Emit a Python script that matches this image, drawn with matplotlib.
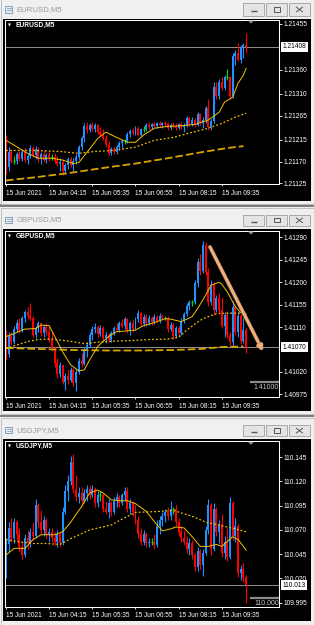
import matplotlib
matplotlib.use("Agg")
import matplotlib.pyplot as plt
from matplotlib.patches import Rectangle, Polygon
from matplotlib.transforms import blended_transform_factory
import matplotlib.patheffects as pe
import numpy as np

plt.rcParams['font.family'] = ['Liberation Sans', 'DejaVu Sans']
plt.rcParams['lines.scale_dashes'] = False

W, H, DPI = 314, 625, 100

# ---------------- data ----------------
time_ticks = [0, 16, 32, 48, 64, 80]
time_labels = ['15 Jun 2021', '15 Jun 04:15', '15 Jun 05:35', '15 Jun 06:55', '15 Jun 08:15', '15 Jun 09:35']

# EURUSD M5, prices in points (1e-5) above 1.21000
eur_base, eur_point = 1.21000, 0.00001
eur_open = [222,158,190,172,172,185,176,190,174,182,198,184,196,175,186,174,184,180,180,172,
            165,170,150,162,175,162,172,180,200,218,244,236,246,238,245,232,226,218,204,188,
            196,190,200,208,212,212,228,234,230,240,226,238,238,246,242,248,244,250,246,250,
            248,240,246,244,240,248,242,246,260,248,256,246,268,250,256,280,242,255,325,305,
            335,322,345,345,305,388,395,380,405,412]
eur_high = [226,200,193,182,190,192,195,198,186,205,203,202,200,190,195,188,190,186,188,182,
            178,175,168,180,180,178,185,205,222,250,252,250,252,250,248,242,238,224,212,200,
            202,204,212,216,216,232,238,240,244,244,240,244,250,252,250,252,252,254,252,254,
            252,250,252,250,250,252,250,264,262,262,260,272,270,262,285,300,258,335,335,340,
            345,350,362,348,395,400,415,412,415,436]
eur_low = [145,150,168,165,165,172,172,170,166,178,180,176,170,165,170,168,172,174,168,160,
           150,142,144,155,158,150,165,176,195,210,230,232,234,232,228,222,214,200,183,183,
           186,186,194,198,206,208,220,224,226,222,222,232,234,238,238,240,240,242,240,244,
           236,236,240,236,238,238,232,242,244,244,242,244,246,240,250,236,236,250,300,300,
           318,318,338,300,302,370,378,375,385,395]
eur_close = [158,190,172,172,185,176,190,174,182,198,184,196,175,186,174,184,180,180,172,165,
             170,150,162,175,162,172,180,200,218,244,236,246,238,245,232,226,218,204,188,196,
             190,200,208,212,212,228,234,230,240,226,238,238,246,242,248,244,250,246,250,248,
             240,246,244,240,248,242,246,260,248,256,246,268,250,256,280,242,255,325,305,335,
             322,345,345,305,388,395,380,405,412,408]
eur_fast_x = [0,3,8,12,17,21,25,27,30,34,37,41,45,48,51,55,60,65,70,75,79,81,84,86,88,89]
eur_fast_y = [214,204,187,177,177,173,166,168,189,218,231,220,210,210,225,239,243,244,247,256,272,293,303,332,349,363]
eur_mid_x = [0,10,20,27,33,40,48,55,62,68,75,80,85,89]
eur_mid_y = [193,193,191,187,191,193,200,214,220,229,239,249,262,270]
eur_slow_x = [0,10,23,35,48,60,72,82,88]
eur_slow_y = [131,137,146,156,166,177,189,198,202]
eur_current = 1.21408
eur_yticks = [1.21455, 1.21360, 1.21310, 1.21265, 1.21215, 1.21170, 1.21125]
eur_ylim = (1.21123, 1.21463)

# GBPUSD M5, points (1e-5) above 1.40000
gbp_base, gbp_point = 1.40000, 0.00001
gbp_open = [1095,1055,1092,1080,1106,1118,1104,1128,1140,1132,1128,1095,1108,1118,1098,1110,1100,1085,1068,1038,
            1015,1034,1000,1012,1004,1024,998,1020,1042,1036,1064,1074,1094,1106,1110,1096,1108,1088,1094,1084,
            1098,1108,1104,1118,1112,1126,1104,1118,1106,1126,1138,1116,1130,1118,1128,1120,1130,1122,1132,1128,
            1128,1106,1114,1092,1108,1098,1122,1136,1152,1160,1160,1198,1240,1222,1275,1220,1160,1195,1145,1168,
            1145,1112,1135,1095,1080,1150,1100,1132,1082,1104]
gbp_high = [1105,1100,1100,1112,1124,1128,1132,1145,1150,1158,1132,1112,1122,1120,1115,1118,1112,1100,1072,1048,
            1040,1036,1018,1026,1030,1028,1025,1048,1058,1070,1080,1100,1112,1118,1114,1115,1112,1100,1098,1102,
            1112,1118,1122,1126,1130,1128,1122,1124,1130,1144,1140,1136,1136,1134,1132,1136,1134,1138,1136,1132,
            1132,1120,1118,1112,1112,1128,1140,1158,1165,1165,1205,1248,1256,1282,1280,1228,1205,1200,1175,1178,
            1170,1140,1142,1100,1162,1155,1140,1136,1128,1108]
gbp_low = [1045,1050,1075,1076,1100,1098,1100,1120,1126,1125,1090,1088,1100,1092,1090,1094,1080,1062,1030,1008,
           1010,995,983,996,1000,992,982,1016,1030,1034,1050,1070,1085,1098,1090,1092,1082,1078,1080,1080,
           1094,1100,1100,1108,1106,1098,1094,1100,1104,1120,1112,1112,1112,1114,1114,1116,1118,1118,1124,1124,
           1100,1102,1086,1088,1090,1094,1118,1132,1145,1152,1156,1190,1215,1218,1215,1152,1155,1135,1140,1138,
           1108,1090,1088,1072,1072,1095,1090,1076,1078,1057]
gbp_close = [1055,1092,1080,1106,1118,1104,1128,1140,1132,1128,1095,1108,1118,1098,1110,1100,1085,1068,1038,1015,
             1034,1000,1012,1004,1024,998,1020,1042,1036,1064,1074,1094,1106,1110,1096,1108,1088,1094,1084,1098,
             1108,1104,1118,1112,1126,1104,1118,1106,1126,1138,1116,1130,1118,1128,1120,1130,1122,1132,1128,1128,
             1106,1114,1092,1108,1098,1122,1136,1152,1160,1160,1198,1240,1222,1275,1220,1160,1195,1145,1168,1145,
             1112,1135,1095,1080,1150,1100,1132,1082,1104,1070]
gbp_fast_x = [0,3,7,11,13,16,18,21,24,27,29,31,34,38,41,44,48,51,55,59,61,65,69,71,74,76,79,80,82,85,87,89]
gbp_fast_y = [1091,1097,1106,1107,1114,1113,1092,1060,1034,1022,1024,1044,1071,1091,1101,1102,1104,1113,1119,1127,
              1126,1121,1131,1147,1174,1194,1200,1196,1181,1151,1139,1137]
gbp_mid_x = [0,4,8,12,17,23,29,35,41,47,53,60,64,67,70,73,78,82,87]
gbp_mid_y = [1067,1074,1081,1085,1086,1082,1077,1080,1082,1083,1085,1086,1090,1104,1116,1127,1137,1138,1138]
gbp_slow_x = [0,12,25,37,50,62,72,80,88]
gbp_slow_y = [1068,1066,1064,1063,1063,1064,1066,1070,1071]
gbp_current = 1.41070
gbp_level = 1.41000
gbp_arrow = [(75.6, 1.41271), (95.2, 1.41062)]
gbp_yticks = [1.41290, 1.41245, 1.41200, 1.41155, 1.41110, 1.41020, 1.40975]
gbp_ylim = (1.40969, 1.41303)

# USDJPY M5, points (1e-3) above 110.000
jpy_base, jpy_point = 110.000, 0.001
jpy_open = [25,55,72,62,78,66,52,44,62,56,68,64,96,78,70,80,66,68,62,58,
            66,56,88,110,120,140,112,104,108,100,108,112,106,112,98,106,106,92,88,98,
            88,100,104,98,106,110,92,98,88,80,66,58,66,56,58,58,54,74,80,84,
            88,84,92,92,78,68,62,58,50,56,44,32,48,34,46,70,96,50,92,68,
            76,46,58,42,98,64,74,26,30,22]
jpy_high = [62,78,82,82,80,72,58,66,70,72,78,102,98,90,84,82,72,72,68,70,
            68,94,116,126,146,148,126,114,114,112,116,116,116,114,110,110,108,100,102,100,
            104,108,106,108,114,114,102,100,96,84,72,70,68,62,62,66,80,84,88,92,
            94,100,94,96,82,74,70,64,62,60,46,52,50,50,74,102,98,98,94,80,
            86,64,72,104,100,82,76,34,36,24]
jpy_low = [20,48,58,56,60,48,40,42,50,52,60,62,72,66,64,62,58,58,54,52,
           52,54,86,100,116,108,100,98,96,98,100,102,104,94,94,100,88,86,82,84,
           86,94,94,96,100,88,86,84,76,62,54,54,52,52,54,50,52,66,74,78,
           80,80,86,74,64,58,54,46,44,40,28,28,30,23,44,66,44,48,64,56,
           42,40,38,40,60,58,22,18,16,-5]
jpy_close = [55,72,62,78,66,52,44,62,56,68,64,96,78,70,80,66,68,62,58,66,
             56,88,110,120,140,112,104,108,100,108,112,106,112,98,106,106,92,88,98,88,
             100,104,98,106,110,92,98,88,80,66,58,66,56,58,58,54,74,80,84,88,
             84,92,92,78,68,62,58,50,56,44,32,48,34,46,70,96,50,92,68,76,
             46,58,42,98,64,74,26,30,22,13]
jpy_fast_x = [0,3,7,10,13,18,21,24,28,31,34,36,39,42,45,48,52,56,58,61,63,66,69,72,75,78,80,82,84,86,88,89]
jpy_fast_y = [44,51,51,60,65,65,68,78,94,108,111,108,101,100,100,97,89,75,69,71,73,72,63,53,53,55,53,58,63,60,53,49]
jpy_mid_x = [0,4,10,15,20,24,31,39,45,48,57,62,69,74,82,85,89]
jpy_mid_y = [60,58,56,56,55,61,70,75,84,88,89,90,84,78,73,71,68]
jpy_current = 110.013
jpy_level = 110.000
jpy_yticks = [110.145, 110.120, 110.095, 110.070, 110.045, 110.020, 109.995]
jpy_ylim = (109.9906, 110.1612)

XLIM = (-0.37, 101.3)

BLUE = '#1e90ff'
RED = '#ff0000'
GREEN = '#00e000'
MA_COL = '#f2c200'
SLOW_COL = '#d9a400'

fig = plt.figure(figsize=(W / DPI, H / DPI), dpi=DPI, facecolor='#f0f0f0')

bg = fig.add_axes([0, 0, 1, 1], zorder=0)
bg.set_xlim(0, W); bg.set_ylim(H, 0); bg.axis('off')
ov = fig.add_axes([0, 0, 1, 1], zorder=10)
ov.set_xlim(0, W); ov.set_ylim(H, 0); ov.axis('off'); ov.patch.set_alpha(0)

windows = [
    dict(title='EURUSD,M5', ty=9.5, btn=(3.3, 15.7), black=(3, 18.5, 311, 201), frame=(5, 20, 279.3, 184.3), outline=(0.5, -1, 313.5, 203.5)),
    dict(title='GBPUSD,M5', ty=220.0, btn=(215, 225.7), black=(3, 228.5, 311, 411), frame=(5, 231, 279.3, 397.3), outline=(0.5, 207.5, 313.5, 413.5)),
    dict(title='USDJPY,M5', ty=430.3, btn=(425.3, 436), black=(3, 439, 311, 621), frame=(5, 441.3, 279.3, 607), outline=(0.5, 417.5, 313.5, 624.5)),
]

# separators between windows
bg.add_patch(Rectangle((0, 204), W, 2.5, facecolor='#7c7c7c', edgecolor='none'))
bg.add_patch(Rectangle((0, 414.5), W, 2.5, facecolor='#7c7c7c', edgecolor='none'))

for w in windows:
    x0, y0, x1, y1 = w['outline']
    bg.add_patch(Rectangle((x0, y0), x1 - x0, y1 - y0, facecolor='#f0f0f0', edgecolor='#b9b9b9', lw=0.6))
    bx0, by0, bx1, by1 = w['black']
    bg.add_patch(Rectangle((bx0, by0), bx1 - bx0, by1 - by0, facecolor='black', edgecolor='none'))
    # title icon and text
    ty = w['ty']
    ov.add_patch(Rectangle((5, ty - 3.5), 7, 6.5, facecolor='#e3ebf3', edgecolor='#7b93b0', lw=0.6))
    ov.plot([6.5, 10.5], [ty - 1.5, ty - 1.5], color='#7b93b0', lw=0.5)
    ov.plot([6.5, 10.5], [ty + 0.8, ty + 0.8], color='#7b93b0', lw=0.5)
    ov.text(16.5, ty, w['title'], color='#999999', fontsize=5.6, va='center', ha='left')
    # buttons
    b0, b1 = w['btn']
    for bxa, bxb in [(243, 264), (266, 287), (289, 310)]:
        ov.add_patch(Rectangle((bxa, b0), bxb - bxa, b1 - b0, facecolor='#e4e4e4', edgecolor='#a9a9a9', lw=0.7))
    cy = (b0 + b1) / 2
    ov.plot([251, 257], [cy + 1.2, cy + 1.2], color='#555555', lw=1.0, solid_capstyle='butt')
    ov.add_patch(Rectangle((273.5, cy - 2.3), 6, 4.3, facecolor='none', edgecolor='#555555', lw=0.7))
    ov.plot([296.5, 302.5], [cy - 2.3, cy + 2.3], color='#555555', lw=0.7)
    ov.plot([296.5, 302.5], [cy + 2.3, cy - 2.3], color='#555555', lw=0.7)
    # chart-shift marker
    fy = w['frame'][1]
    ov.add_patch(Polygon([(248, fy + 0.6), (254, fy + 0.6), (251, fy + 3.6)], closed=True,
                         facecolor='#8c8c8c', edgecolor='none'))


def make_axes(frame):
    x0, y0, x1, y1 = frame
    ax = fig.add_axes([x0 / W, 1 - y1 / H, (x1 - x0) / W, (y1 - y0) / H], zorder=2)
    ax.set_facecolor('black')
    for s in ax.spines.values():
        s.set_color('white'); s.set_linewidth(0.75)
    return ax


def draw_chart(ax, base, point, o, h, l, c, ylim, yticks, fmt, current, label):
    o = base + np.array(o) * point
    h = base + np.array(h) * point
    l = base + np.array(l) * point
    c = base + np.array(c) * point
    idx = np.arange(len(o))
    cols = np.where(c > o, BLUE, np.where(c < o, RED, GREEN))
    ax.vlines(idx, l, h, colors=cols, lw=0.8, zorder=2)
    ax.bar(idx, np.abs(c - o), bottom=np.minimum(o, c), width=0.74, color=cols, linewidth=0, zorder=2)
    dj = c == o
    ax.hlines(o[dj], idx[dj] - 0.37, idx[dj] + 0.37, colors=GREEN, lw=0.9, zorder=2)
    ax.set_xlim(*XLIM)
    ax.set_ylim(*ylim)
    ax.yaxis.tick_right()
    ax.set_yticks(yticks)
    ax.set_yticklabels([fmt % v for v in yticks])
    ax.set_xticks(time_ticks)
    ax.set_xticklabels(time_labels, ha='left')
    ax.tick_params(axis='y', colors='white', labelcolor='white', length=2.2, width=0.6, pad=1.2, labelsize=4.8)
    ax.tick_params(axis='x', colors='white', labelcolor='white', length=1.6, width=0.6, pad=2.2, labelsize=4.7)
    ax.axhline(current, color='#8c8c8c', lw=0.75, zorder=1)
    tr = blended_transform_factory(ax.transAxes, ax.transData)
    ax.text(1.011, current, fmt % current, transform=tr, ha='left', va='center', fontsize=4.8, color='black',
            bbox=dict(boxstyle='square,pad=0.22', facecolor='white', edgecolor='none'), clip_on=False, zorder=5)
    ax.text(0.012, 0.968, '\u25BC', transform=ax.transAxes, fontsize=2.8, color='white', ha='left', va='center',
            family=['DejaVu Sans'])
    ax.text(0.038, 0.968, label, transform=ax.transAxes, fontsize=4.8, color='white', ha='left', va='center',
            fontweight='bold')


def draw_ma(ax, base, point, xs, ys, style):
    vals = base + np.array(ys) * point
    if style == 'solid':
        ax.plot(xs, vals, color=MA_COL, lw=0.7, zorder=3)
    elif style == 'dot':
        ax.plot(xs, vals, color=MA_COL, lw=0.9, dashes=(1.3, 1.5), zorder=3)
    else:
        ax.plot(xs, vals, color=SLOW_COL, lw=1.3, dashes=(5.5, 2.2), zorder=3)


# EURUSD
ax1 = make_axes(windows[0]['frame'])
draw_chart(ax1, eur_base, eur_point, eur_open, eur_high, eur_low, eur_close, eur_ylim, eur_yticks, '%.5f',
           eur_current, 'EURUSD,M5')
draw_ma(ax1, eur_base, eur_point, eur_slow_x, eur_slow_y, 'dash')
draw_ma(ax1, eur_base, eur_point, eur_mid_x, eur_mid_y, 'dot')
draw_ma(ax1, eur_base, eur_point, eur_fast_x, eur_fast_y, 'solid')

# GBPUSD
ax2 = make_axes(windows[1]['frame'])
draw_chart(ax2, gbp_base, gbp_point, gbp_open, gbp_high, gbp_low, gbp_close, gbp_ylim, gbp_yticks, '%.5f',
           gbp_current, 'GBPUSD,M5')
draw_ma(ax2, gbp_base, gbp_point, gbp_slow_x, gbp_slow_y, 'dash')
draw_ma(ax2, gbp_base, gbp_point, gbp_mid_x, gbp_mid_y, 'dot')
draw_ma(ax2, gbp_base, gbp_point, gbp_fast_x, gbp_fast_y, 'solid')
ax2.annotate('', xy=gbp_arrow[1], xytext=gbp_arrow[0],
             arrowprops=dict(arrowstyle='-|>', color='#f6ad72', lw=2.0, mutation_scale=7, shrinkA=0, shrinkB=0,
                             path_effects=[pe.Stroke(linewidth=2.8, foreground='#8e7a66'), pe.Normal()]),
             zorder=6)
ax2.hlines(gbp_level, 90.3, XLIM[1], color='#8c8c8c', lw=1.6, zorder=4)
ax2.text(XLIM[1] - 0.2, gbp_level - 0.00004, '%.5f' % gbp_level, ha='right', va='top', fontsize=5.0,
         color='#c8c8c8', zorder=5)

# USDJPY
ax3 = make_axes(windows[2]['frame'])
draw_chart(ax3, jpy_base, jpy_point, jpy_open, jpy_high, jpy_low, jpy_close, jpy_ylim, jpy_yticks, '%.3f',
           jpy_current, 'USDJPY,M5')
draw_ma(ax3, jpy_base, jpy_point, jpy_mid_x, jpy_mid_y, 'dot')
draw_ma(ax3, jpy_base, jpy_point, jpy_fast_x, jpy_fast_y, 'solid')
ax3.hlines(jpy_level, 90.3, XLIM[1], color='#8c8c8c', lw=1.6, zorder=4)
ax3.text(XLIM[1] - 0.2, jpy_level - 0.002, '%.3f' % jpy_level, ha='right', va='top', fontsize=5.0,
         color='#c8c8c8', zorder=5)

fig.savefig('out.png', dpi=DPI, facecolor=fig.get_facecolor())
